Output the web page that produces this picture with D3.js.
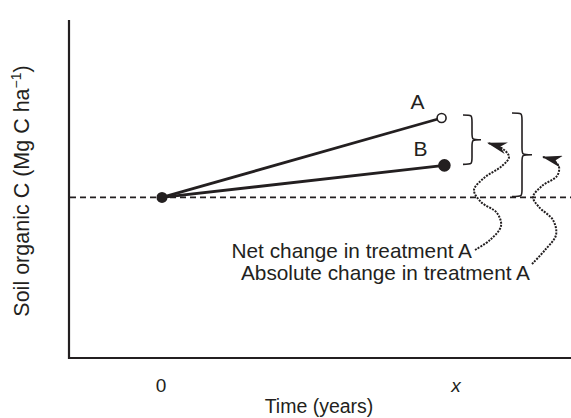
<!DOCTYPE html>
<html>
<head>
<meta charset="utf-8">
<script src="https://cdn.jsdelivr.net/npm/d3@7"></script>
<style>
  body { margin: 0; background: #fff; }
  text { font-family: "Liberation Sans", Arial, sans-serif; fill: #231f20; }
</style>
</head>
<body>
<script>
// chart values (schematic)
var treatments = ["A", "B"];
var startTime = 0;
var endTime = [9.95, 10.05];      // A, B
var startCarbon = 47.5;
var endCarbon = [71, 57];          // A, B
var tickValues = [0, 10.5];
var tickLabels = ["0", "x"];
var annotations = ["Net change in treatment A", "Absolute change in treatment A"];

var width = 571,
    height = 418;

var svg = d3.select("body").append("svg")
    .attr("width", width)
    .attr("height", height);

var x = d3.scaleLinear().domain([0, 10]).range([162, 443]);
var y = d3.scaleLinear().domain([0, 100]).range([358, 20]);

var ink = "#231f20";

// axes
svg.append("line")
    .attr("x1", 69).attr("x2", 69)
    .attr("y1", y(100)).attr("y2", y(0) + 1)
    .style("stroke", ink).style("stroke-width", 2.2);
svg.append("line")
    .attr("x1", 68).attr("x2", width)
    .attr("y1", y(0)).attr("y2", y(0))
    .style("stroke", ink).style("stroke-width", 2.2);

// baseline (dashed)
svg.append("line")
    .attr("x1", 70).attr("x2", width)
    .attr("y1", y(startCarbon)).attr("y2", y(startCarbon))
    .style("stroke", ink)
    .style("stroke-width", 1.8)
    .style("stroke-dasharray", "6,4");

// treatment lines
svg.selectAll(".trt")
    .data(treatments)
    .enter().append("line")
    .attr("class", "trt")
    .attr("x1", x(startTime)).attr("y1", y(startCarbon))
    .attr("x2", function(d, i) { return x(endTime[i]); })
    .attr("y2", function(d, i) { return y(endCarbon[i]); })
    .style("stroke", ink)
    .style("stroke-width", 2.8);

// start point
svg.append("circle")
    .attr("cx", x(startTime)).attr("cy", y(startCarbon))
    .attr("r", 5.5)
    .style("fill", ink);

// end points: A hollow, B filled
svg.selectAll(".endpt")
    .data(treatments)
    .enter().append("circle")
    .attr("class", "endpt")
    .attr("cx", function(d, i) { return x(endTime[i]); })
    .attr("cy", function(d, i) { return y(endCarbon[i]); })
    .attr("r", function(d) { return d == "A" ? 4.5 : 5.5; })
    .style("fill", function(d) { return d == "A" ? "#fff" : ink; })
    .style("stroke", ink)
    .style("stroke-width", 1.6);

svg.selectAll(".trtlabel")
    .data(treatments)
    .enter().append("text")
    .attr("class", "trtlabel")
    .attr("x", function(d, i) { return x(endTime[i]) - 24; })
    .attr("y", function(d, i) { return y(endCarbon[i]) - 9; })
    .attr("text-anchor", "middle")
    .style("font-size", "21px")
    .text(function(d) { return d; });

// curly braces
function brace(x0, y1, y2, w) {
    var xm = x0 + w / 2, ym = (y1 + y2) / 2, q = 7;
    return "M" + x0 + "," + y1 +
        "C" + xm + "," + y1 + " " + xm + "," + y1 + " " + xm + "," + (y1 + q) +
        "L" + xm + "," + (ym - q) +
        "C" + xm + "," + ym + " " + xm + "," + ym + " " + (x0 + w) + "," + ym +
        "C" + xm + "," + ym + " " + xm + "," + ym + " " + xm + "," + (ym + q) +
        "L" + xm + "," + (y2 - q) +
        "C" + xm + "," + y2 + " " + xm + "," + y2 + " " + x0 + "," + y2;
}

svg.append("path")
    .attr("d", brace(463, y(endCarbon[0]) - 3, y(endCarbon[1]) - 1, 18))
    .style("fill", "none").style("stroke", ink).style("stroke-width", 1.6);
svg.append("path")
    .attr("d", brace(512, y(endCarbon[0]) - 5, y(startCarbon) - 1, 20))
    .style("fill", "none").style("stroke", ink).style("stroke-width", 1.6);

// arrow heads
svg.append("defs").append("marker")
    .attr("id", "head")
    .attr("markerUnits", "userSpaceOnUse")
    .attr("viewBox", "0 0 20 12")
    .attr("refX", 19).attr("refY", 6)
    .attr("markerWidth", 20).attr("markerHeight", 12)
    .attr("orient", "auto")
    .append("path")
    .attr("d", "M0,0 L20,6 L0,12 L6,6 Z")
    .style("fill", ink);

// wavy dotted arrows, from the text end up to the braces
var wave1 = [[475,250],[490,240],[501,226],[497,213],[481,202],[474,190],[484,178],[502,166],[509,157],[503,149],[488,143]];
var wave2 = [[532,264],[545,250],[556,235],[553,220],[539,207],[533,197],[542,186],[557,176],[559,167],[554,161],[543,157]];

var line = d3.line().curve(d3.curveCatmullRom.alpha(0.5));

svg.selectAll(".wave")
    .data([wave1, wave2])
    .enter().append("path")
    .attr("class", "wave")
    .attr("d", line)
    .attr("marker-end", "url(#head)")
    .style("fill", "none")
    .style("stroke", ink)
    .style("stroke-width", 2)
    .style("stroke-dasharray", "2,1.2");

svg.append("text")
    .attr("x", 472).attr("y", 258)
    .attr("text-anchor", "end")
    .style("font-size", "20.8px")
    .text(annotations[0]);
svg.append("text")
    .attr("x", 530).attr("y", 280)
    .attr("text-anchor", "end")
    .style("font-size", "20.8px")
    .text(annotations[1]);

// tick labels
svg.selectAll(".tick")
    .data(tickValues)
    .enter().append("text")
    .attr("class", "tick")
    .attr("x", function(d) { return x(d) - 1; })
    .attr("y", 392)
    .attr("text-anchor", "middle")
    .style("font-size", "19px")
    .style("font-style", function(d, i) { return tickLabels[i] == "x" ? "italic" : "normal"; })
    .text(function(d, i) { return tickLabels[i]; });

// axis titles
svg.append("text")
    .attr("x", 319).attr("y", 413)
    .attr("text-anchor", "middle")
    .style("font-size", "19.5px")
    .text("Time (years)");

var ylab = svg.append("text")
    .attr("transform", "translate(29," + ((y(0) + y(100)) / 2 + 2) + ") rotate(-90)")
    .attr("text-anchor", "middle")
    .style("font-size", "21.5px");
ylab.append("tspan").text("Soil organic C (Mg C ha");
ylab.append("tspan").attr("dy", -8).style("font-size", "14px").text("\u22121");
ylab.append("tspan").attr("dy", 8).text(")");
</script>
</body>
</html>
